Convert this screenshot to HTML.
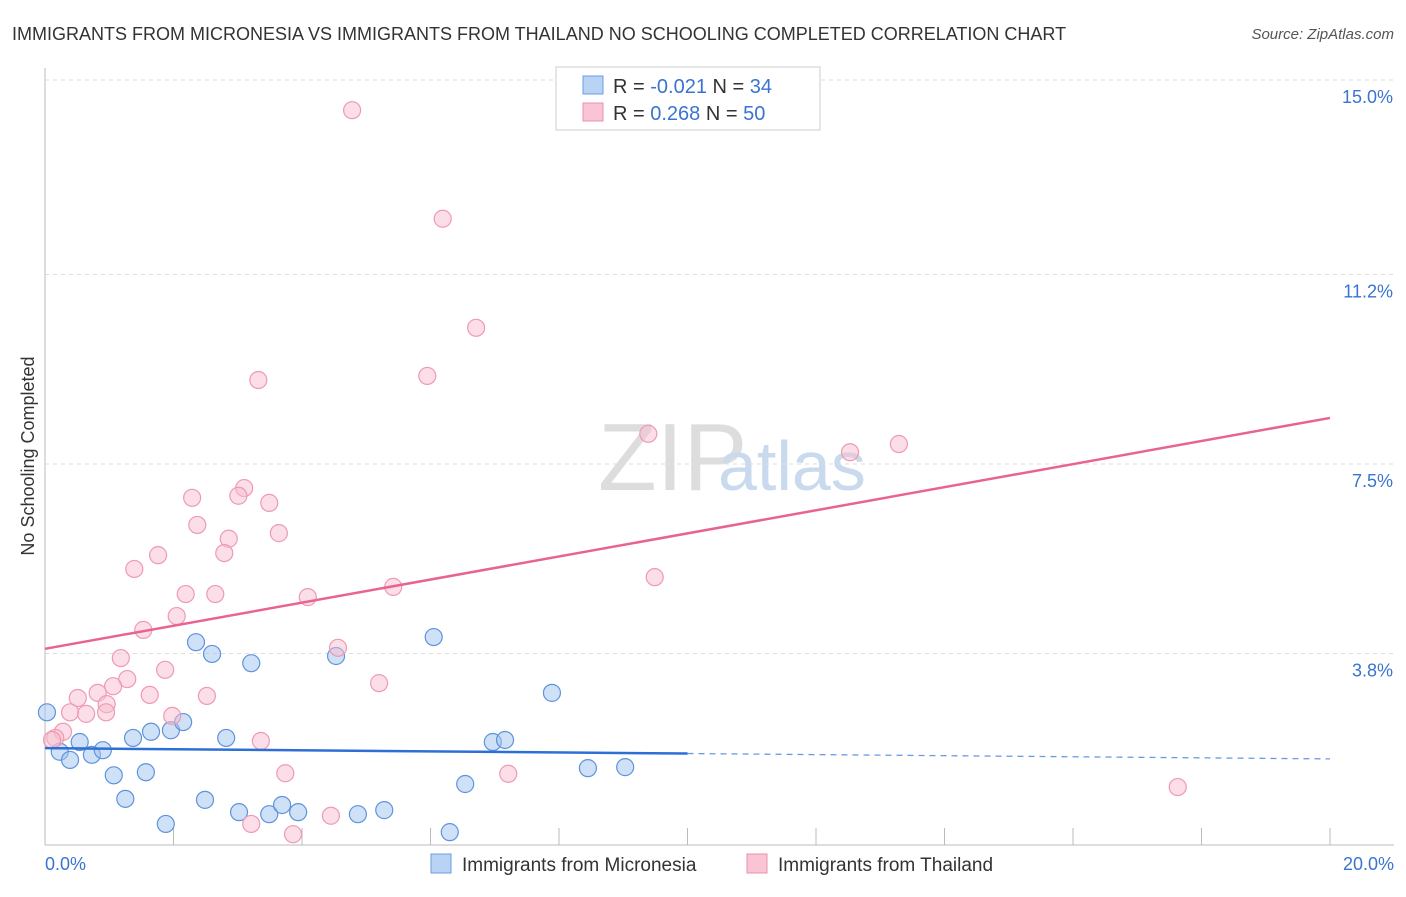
<!DOCTYPE html>
<html><head><meta charset="utf-8"><style>
body{margin:0;background:#fff;font-family:"Liberation Sans",sans-serif}
svg text{font-family:"Liberation Sans",sans-serif}
</style></head><body>
<svg id="c" width="1406" height="892">
<text x="12" y="40" font-size="18" fill="#333">IMMIGRANTS FROM MICRONESIA VS IMMIGRANTS FROM THAILAND NO SCHOOLING COMPLETED CORRELATION CHART</text>
<text x="1394" y="39" font-size="15" fill="#555" text-anchor="end" font-style="italic">Source: ZipAtlas.com</text>
<text x="598" y="490" font-size="96" fill="#ddd" font-family="Liberation Serif">ZIP</text>
<text x="718" y="490" font-size="70" fill="#c9d9ee">atlas</text>
<text transform="translate(34,456) rotate(-90)" font-size="18" fill="#333" text-anchor="middle">No Schooling Completed</text>
<g id="grid"></g><g id="pts"></g><g id="lines"></g>
<g>
<rect x="556" y="67" width="264" height="63" fill="#fff" stroke="#ccc"/>
<rect x="583" y="76" width="20" height="18" fill="#b9d3f5" stroke="#6a9be0"/>
<rect x="583" y="103" width="20" height="18" fill="#f9c5d4" stroke="#ec8fab"/>
<text x="613" y="93" font-size="20" fill="#333">R = <tspan fill="#3a74d0">-0.021</tspan>   N = <tspan fill="#3a74d0">34</tspan></text>
<text x="613" y="120" font-size="20" fill="#333">R =  <tspan fill="#3a74d0"> 0.268</tspan>   N = <tspan fill="#3a74d0">50</tspan></text>
</g>
<g>
<rect x="431" y="854" width="20" height="19" fill="#b9d3f5" stroke="#6a9be0"/>
<text x="462" y="871" font-size="19" fill="#333">Immigrants from Micronesia</text>
<rect x="747" y="854" width="20" height="19" fill="#f9c5d4" stroke="#ec8fab"/>
<text x="778" y="871" font-size="19" fill="#333">Immigrants from Thailand</text>
</g>
</svg>
<script>
const yTicks=[15.0,11.2,7.5,3.8];
const yTickLabels=["15.0%","11.2%","7.5%","3.8%"];
const xTickLabels=["0.0%","20.0%"];
const blueX=[0.03,0.23,0.39,0.54,0.73,0.90,1.07,1.25,1.37,1.57,1.65,1.88,1.96,2.15,2.35,2.49,2.60,2.82,3.02,3.21,3.49,3.69,3.94,4.53,4.87,5.28,6.05,6.30,6.54,6.97,7.16,7.89,8.45,9.03];
const blueY=[2.65,1.88,1.72,2.07,1.82,1.91,1.42,0.96,2.15,1.48,2.27,0.47,2.30,2.46,4.02,0.94,3.79,2.15,0.70,3.61,0.66,0.84,0.70,3.75,0.66,0.74,4.12,0.31,1.25,2.07,2.11,3.03,1.56,1.58];
const pinkX=[4.78,6.19,6.71,5.95,3.32,9.39,13.29,12.53,3.10,2.29,3.01,3.49,2.37,3.64,2.86,2.79,1.76,1.39,9.49,5.42,2.19,2.65,4.09,2.05,1.53,4.56,1.18,1.87,5.20,1.28,1.06,0.82,0.51,1.63,2.52,0.96,0.39,0.64,0.95,1.98,0.28,0.16,3.36,3.74,7.21,17.63,4.45,3.21,3.86,0.11];
const pinkY=[14.41,12.29,10.16,9.22,9.14,8.09,7.89,7.73,7.03,6.84,6.88,6.74,6.31,6.15,6.04,5.76,5.72,5.45,5.29,5.10,4.96,4.96,4.90,4.53,4.26,3.91,3.71,3.48,3.22,3.30,3.16,3.03,2.93,2.99,2.97,2.81,2.65,2.62,2.65,2.58,2.27,2.15,2.09,1.46,1.45,1.19,0.63,0.47,0.27,2.11];
const pinkTrend=[3.89,8.40];
const blueTrend=[1.95,1.74];
const X=v=>45+v*64.25, Y=v=>848-v*51.2;
const NS="http://www.w3.org/2000/svg";
function mk(t,a,p){const e=document.createElementNS(NS,t);for(const k in a)e.setAttribute(k,a[k]);p.appendChild(e);return e;}
const g=document.getElementById('grid');
yTicks.forEach((t,i)=>{
 const l=mk('line',{x1:45,x2:1394,y1:Y(t),y2:Y(t),stroke:'#ddd','stroke-dasharray':'4 4'},g);
 
 
 const tx=mk('text',{x:1393,y:Y(t)+23,'font-size':18,fill:'#3a74d0','text-anchor':'end'},g);
 tx.textContent=yTickLabels[i];
 
 
});
const ax=mk('line',{x1:45,x2:45,y1:68,y2:845,stroke:'#bbb'},g);


const bx=mk('line',{x1:45,x2:1394,y1:845,y2:845,stroke:'#bbb'},g);


for(let i=1;i<=10;i++){const t=mk('line',{x1:X(i*2),x2:X(i*2),y1:828,y2:845,stroke:'#bbb'},g);
 
 }
[[0,'start',45],[1,'end',1394]].forEach(([i,a,x])=>{const t=mk('text',{x:x,y:870,'font-size':18,fill:'#3a74d0','text-anchor':a},g);t.textContent=xTickLabels[i];
 
 });
const p=document.getElementById('pts');
blueX.forEach((v,i)=>{const c=mk('circle',{cx:X(v),cy:Y(blueY[i]),r:8.5,fill:'rgba(160,196,240,0.5)',stroke:'#5f93dc','stroke-width':1.2},p);
 
 });
pinkX.forEach((v,i)=>{const c=mk('circle',{cx:X(v),cy:Y(pinkY[i]),r:8.5,fill:'rgba(248,190,208,0.5)',stroke:'#ee9ab3','stroke-width':1.2},p);
 
 });
const L=document.getElementById('lines');
const pl=mk('line',{x1:X(0),y1:Y(pinkTrend[0]),x2:X(20),y2:Y(pinkTrend[1]),stroke:'#e8648f','stroke-width':2.5},L);


const bm=blueTrend[0]+(blueTrend[1]-blueTrend[0])*0.5;
const bl=mk('line',{x1:X(0),y1:Y(blueTrend[0]),x2:X(10),y2:Y(bm),stroke:'#2e6fd6','stroke-width':2.5},L);


const bd=mk('line',{x1:X(10),y1:Y(bm),x2:X(20),y2:Y(blueTrend[1]),stroke:'#6a9be0','stroke-width':1.3,'stroke-dasharray':'6 5'},L);


</script>
</body></html>
